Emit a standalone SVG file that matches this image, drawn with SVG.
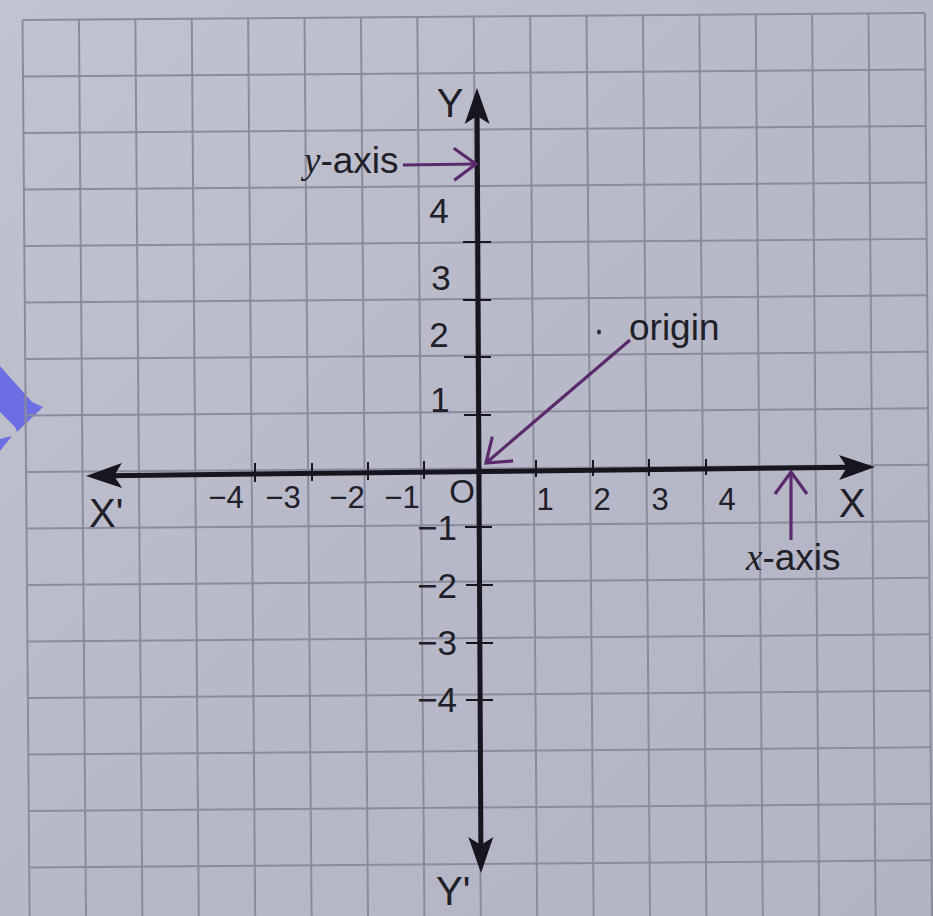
<svg xmlns="http://www.w3.org/2000/svg" width="933" height="916" viewBox="0 0 933 916">
<defs>
<linearGradient id="paper" x1="0" y1="0" x2="1" y2="1">
<stop offset="0" stop-color="#c2c3d0"/>
<stop offset="0.5" stop-color="#b8b9c8"/>
<stop offset="1" stop-color="#b2b3c3"/>
</linearGradient>
<marker id="axisHead" markerUnits="userSpaceOnUse" orient="auto-start-reverse" overflow="visible" markerWidth="10" markerHeight="10" refX="0" refY="0">
<path d="M22,0 L-14,-12.5 L-6,0 L-14,12.5 Z" fill="#16161e"/>
</marker>
<marker id="chev" markerUnits="userSpaceOnUse" orient="auto" overflow="visible" markerWidth="10" markerHeight="10" refX="0" refY="0">
<path d="M-22,-16 L0,0 L-22,16" fill="none" stroke="#5a2a6c" stroke-width="3.2" stroke-linejoin="miter"/>
</marker>
</defs>
<style>
.grid line{stroke:#8a8c9c;stroke-width:2}
.axis{stroke:#16161e;stroke-width:5;fill:none}
.tick{stroke:#16161e;stroke-width:2}
.pointer{stroke:#5a2a6c;stroke-width:3.2;fill:none;marker-end:url(#chev)}
text{font-family:"Liberation Sans",Arial,sans-serif;fill:#202028}
.num{font-size:31px}
.ynum{font-size:35px}
.big{font-size:40px}
.lbl{font-size:37px}
.it{font-family:"Liberation Serif","Times New Roman",serif;font-style:italic}
</style>
<rect width="933" height="916" fill="url(#paper)"/>
<g id="watermark" fill="#6b6fe2">
<polygon points="0,366 32,402 43,407 17,432 15,427 0,412"/>
<polygon points="0,439 12,436 0,451"/>
</g>
<g id="grid" class="grid" transform="rotate(-0.45 466 458)">
<line x1="26" y1="16.5" x2="26" y2="930"/>
<line x1="82.4" y1="16.5" x2="82.4" y2="930"/>
<line x1="138.8" y1="16.5" x2="138.8" y2="930"/>
<line x1="195.2" y1="16.5" x2="195.2" y2="930"/>
<line x1="251.6" y1="16.5" x2="251.6" y2="930"/>
<line x1="308" y1="16.5" x2="308" y2="930"/>
<line x1="364.4" y1="16.5" x2="364.4" y2="930"/>
<line x1="420.8" y1="16.5" x2="420.8" y2="930"/>
<line x1="477.2" y1="16.5" x2="477.2" y2="930"/>
<line x1="533.6" y1="16.5" x2="533.6" y2="930"/>
<line x1="590" y1="16.5" x2="590" y2="930"/>
<line x1="646.4" y1="16.5" x2="646.4" y2="930"/>
<line x1="702.8" y1="16.5" x2="702.8" y2="930"/>
<line x1="759.2" y1="16.5" x2="759.2" y2="930"/>
<line x1="815.6" y1="16.5" x2="815.6" y2="930"/>
<line x1="872" y1="16.5" x2="872" y2="930"/>
<line x1="928.4" y1="16.5" x2="928.4" y2="930"/>
<line x1="26" y1="16.5" x2="928.4" y2="16.5"/>
<line x1="26" y1="73" x2="928.4" y2="73"/>
<line x1="26" y1="129.5" x2="928.4" y2="129.5"/>
<line x1="26" y1="186" x2="928.4" y2="186"/>
<line x1="26" y1="242.5" x2="928.4" y2="242.5"/>
<line x1="26" y1="299" x2="928.4" y2="299"/>
<line x1="26" y1="355.5" x2="928.4" y2="355.5"/>
<line x1="26" y1="412" x2="928.4" y2="412"/>
<line x1="26" y1="468.5" x2="928.4" y2="468.5"/>
<line x1="26" y1="525" x2="928.4" y2="525"/>
<line x1="26" y1="581.5" x2="928.4" y2="581.5"/>
<line x1="26" y1="638" x2="928.4" y2="638"/>
<line x1="26" y1="694.5" x2="928.4" y2="694.5"/>
<line x1="26" y1="751" x2="928.4" y2="751"/>
<line x1="26" y1="807.5" x2="928.4" y2="807.5"/>
<line x1="26" y1="864" x2="928.4" y2="864"/>
</g>
<g id="x-axis">
<line class="axis" x1="108" y1="475.7" x2="853" y2="467.3" marker-start="url(#axisHead)" marker-end="url(#axisHead)"/>
<line class="tick" x1="255" y1="463" x2="255" y2="482"/>
<line class="tick" x1="312" y1="463" x2="312" y2="481"/>
<line class="tick" x1="368" y1="462" x2="368" y2="480"/>
<line class="tick" x1="424" y1="461" x2="424" y2="479"/>
<line class="tick" x1="536" y1="460" x2="536" y2="477"/>
<line class="tick" x1="593" y1="460" x2="593" y2="476"/>
<line class="tick" x1="649" y1="459" x2="649" y2="476"/>
<line class="tick" x1="706" y1="459" x2="706" y2="475"/>
</g>
<g id="y-axis">
<line class="axis" x1="477.1" y1="110" x2="480.9" y2="851" marker-start="url(#axisHead)" marker-end="url(#axisHead)"/>
<line class="tick" x1="463" y1="242" x2="491" y2="242"/>
<line class="tick" x1="463" y1="300" x2="491" y2="300"/>
<line class="tick" x1="464" y1="357" x2="491" y2="357"/>
<line class="tick" x1="464" y1="415" x2="491" y2="415"/>
<line class="tick" x1="465" y1="527" x2="492" y2="527"/>
<line class="tick" x1="466" y1="585" x2="493" y2="585"/>
<line class="tick" x1="466" y1="643" x2="493" y2="643"/>
<line class="tick" x1="466" y1="700" x2="493" y2="700"/>
</g>
<g id="x-labels" class="num" text-anchor="middle">
<text x="226" y="508">−4</text>
<text x="283" y="508">−3</text>
<text x="347" y="508">−2</text>
<text x="402" y="508">−1</text>
<text x="462" y="503" style="font-size:33px">O</text>
<text x="545" y="510">1</text>
<text x="602" y="510">2</text>
<text x="660" y="510">3</text>
<text x="727" y="510">4</text>
</g>
<g id="y-labels" class="ynum">
<text x="439" y="223" text-anchor="middle">4</text>
<text x="441" y="290" text-anchor="middle">3</text>
<text x="439" y="347" text-anchor="middle">2</text>
<text x="440" y="412" text-anchor="middle">1</text>
<text x="457" y="540" text-anchor="end">−1</text>
<text x="457" y="598" text-anchor="end">−2</text>
<text x="457" y="655" text-anchor="end">−3</text>
<text x="457" y="712" text-anchor="end">−4</text>
</g>
<g id="axis-names" class="big">
<text x="852" y="517" text-anchor="middle">X</text>
<text x="89" y="527">X'</text>
<text x="450" y="117" text-anchor="middle">Y</text>
<text x="436" y="905">Y'</text>
</g>
<g id="label-y-axis">
<text x="304" y="173" class="lbl"><tspan class="it">y</tspan>-axis</text>
</g>
<g id="label-origin">
<text x="629" y="340" class="lbl">origin</text>
<ellipse cx="599" cy="332" rx="2" ry="2.6" fill="#2a2a33"/>
</g>
<g id="label-x-axis">
<text x="746" y="570" class="lbl"><tspan class="it">x</tspan>-axis</text>
</g>
<g id="connectors">
<line class="pointer" x1="403" y1="165" x2="476" y2="164"/>
<line class="pointer" x1="630" y1="340" x2="486" y2="463"/>
<line class="pointer" x1="791" y1="540" x2="791" y2="472"/>
</g>
</svg>
